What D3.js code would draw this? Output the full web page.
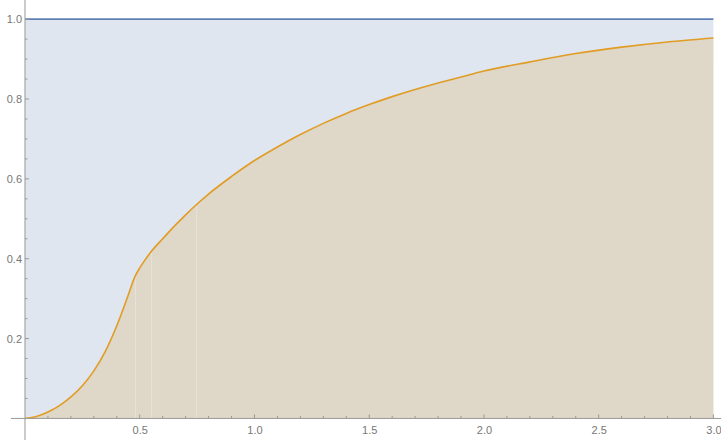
<!DOCTYPE html>
<html>
<head>
<meta charset="utf-8">
<script src="https://cdn.jsdelivr.net/npm/d3@7"></script>
<style>
  body { margin: 0; background: #fff; }
  svg { display: block; }
  text { font-family: "Liberation Sans", "DejaVu Sans", sans-serif; font-size: 11px; fill: #777; }
</style>
</head>
<body>
<div id="chart"></div>
<script>
// curve
let xs = [0, 0.05, 0.10, 0.15, 0.20, 0.25, 0.30, 0.35, 0.40, 0.45, 0.479, 0.50, 0.523, 0.55, 0.60, 0.65, 0.70, 0.75, 0.80, 0.90, 1.00, 1.10, 1.20, 1.30, 1.40, 1.50, 1.60, 1.70, 1.80, 1.90, 2.00, 2.20, 2.40, 2.60, 2.80, 3.00];
let ys = [0, 0.005, 0.016, 0.032, 0.054, 0.082, 0.119, 0.168, 0.232, 0.309, 0.355, 0.377, 0.397, 0.418, 0.450, 0.481, 0.510, 0.537, 0.562, 0.606, 0.646, 0.680, 0.711, 0.739, 0.764, 0.786, 0.806, 0.824, 0.840, 0.855, 0.870, 0.893, 0.914, 0.930, 0.943, 0.953];
let upper = 1;
let seams = [0.482, 0.552, 0.748];
let xTicks = [0.5, 1.0, 1.5, 2.0, 2.5, 3.0];
let yTicks = [0.2, 0.4, 0.6, 0.8, 1.0];

let width = 721, height = 445;

let x = d3.scaleLinear().domain([-0.061, 3.033]).range([11, 721]);
let y = d3.scaleLinear().domain([-0.054, 1.048]).range([440, 0]);

let svg = d3.select("#chart").append("svg")
    .attr("width", width)
    .attr("height", height);

let data = xs.map((v, i) => ({x: v, y: ys[i]}));
let x0 = xs[0], x1 = xs[xs.length - 1];

// fills
svg.append("rect")
    .attr("x", x(x0)).attr("y", y(upper))
    .attr("width", x(x1) - x(x0)).attr("height", y(0) - y(upper))
    .attr("fill", "#5e81b5").attr("fill-opacity", 0.2);

let area = d3.area()
    .x(d => x(d.x)).y0(y(0)).y1(d => y(d.y))
    .curve(d3.curveMonotoneX);

svg.append("path").datum(data)
    .attr("d", area)
    .attr("fill", "#e19c24").attr("fill-opacity", 0.2);

// faint seams in the fill
function valueAt(v) {
    let i = d3.bisectLeft(xs, v);
    let t = (v - xs[i - 1]) / (xs[i] - xs[i - 1]);
    return ys[i - 1] + t * (ys[i] - ys[i - 1]);
}
svg.append("g").selectAll("line").data(seams).join("line")
    .attr("x1", d => x(d)).attr("x2", d => x(d))
    .attr("y1", y(0))
    .attr("y2", d => y(valueAt(d)) + 2)
    .attr("stroke", "#fff").attr("stroke-opacity", 0.3).attr("stroke-width", 1);

// lines
svg.append("line")
    .attr("x1", x(x0)).attr("x2", x(x1))
    .attr("y1", y(upper)).attr("y2", y(upper))
    .attr("stroke", "#5e81b5").attr("stroke-width", 1.6);

let line = d3.line().x(d => x(d.x)).y(d => y(d.y)).curve(d3.curveMonotoneX);
svg.append("path").datum(data)
    .attr("d", line)
    .attr("fill", "none")
    .attr("stroke", "#e19c24").attr("stroke-width", 1.6);

// axes
let axisColor = "#999";
let xAxis = d3.axisBottom(x).tickValues(xTicks).tickSize(0).tickPadding(8)
    .tickFormat(d3.format(".1f"));
let gx = svg.append("g").attr("transform", `translate(0,${y(0)})`).call(xAxis);
gx.select(".domain").remove();
gx.selectAll("text").attr("fill", "#777").style("font-size", "11px").style("font-family", "Liberation Sans, sans-serif");

let yAxis = d3.axisLeft(y).tickValues(yTicks).tickSize(0).tickPadding(3)
    .tickFormat(d3.format(".1f"));
let gy = svg.append("g").attr("transform", `translate(${x(0)},0)`).call(yAxis);
gy.select(".domain").remove();
gy.selectAll("text").attr("fill", "#777").style("font-size", "11px").style("font-family", "Liberation Sans, sans-serif");

svg.append("line")
    .attr("x1", x.range()[0]).attr("x2", x.range()[1])
    .attr("y1", y(0)).attr("y2", y(0))
    .attr("stroke", axisColor).attr("stroke-width", 1);
svg.append("line")
    .attr("x1", x(0)).attr("x2", x(0))
    .attr("y1", y.range()[0]).attr("y2", y.range()[1])
    .attr("stroke", axisColor).attr("stroke-width", 1);

// tick marks (inside)
let xMinor = d3.range(1, 31).map(i => i / 10);
svg.append("g").selectAll("line").data(xMinor).join("line")
    .attr("x1", d => x(d)).attr("x2", d => x(d))
    .attr("y1", y(0))
    .attr("y2", d => y(0) - (Math.abs(d * 2 - Math.round(d * 2)) < 1e-6 ? 4 : 2.5))
    .attr("stroke", axisColor);

let yMinor = d3.range(1, 21).map(i => i / 20);
svg.append("g").selectAll("line").data(yMinor).join("line")
    .attr("y1", d => y(d)).attr("y2", d => y(d))
    .attr("x1", x(0))
    .attr("x2", d => x(0) + (Math.abs(d * 5 - Math.round(d * 5)) < 1e-6 ? 4 : 2.5))
    .attr("stroke", axisColor);
</script>
</body>
</html>
